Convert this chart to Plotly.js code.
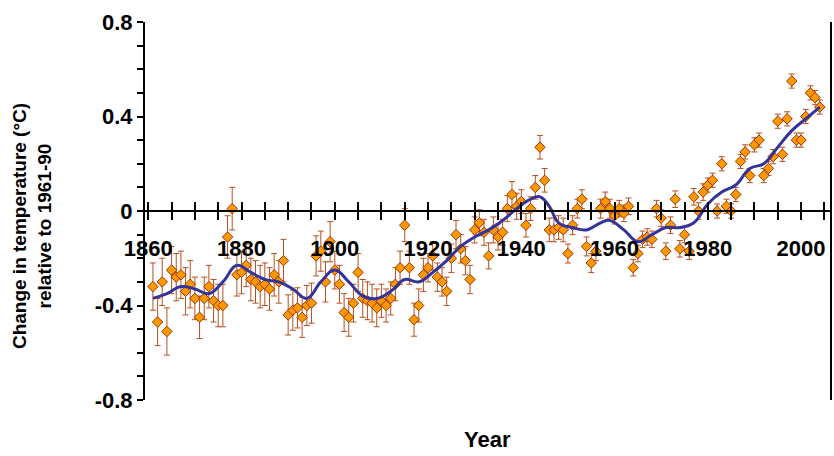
<!DOCTYPE html>
<html>
<head>
<meta charset="utf-8">
<script src="https://cdn.plot.ly/plotly-3.0.1.min.js"></script>
<style>body{margin:0}#graph{width:834px;height:456px}</style>
</head>
<body>
<div id="graph"></div>
<script>
// annual anomalies
const years = []
for (let y = 1861; y <= 2004; y++) years.push(y)

const anomaly = [
  -0.32, -0.47, -0.30, -0.51, -0.25, -0.28, -0.27, -0.34, -0.31,
  -0.37, -0.45, -0.37, -0.32, -0.38, -0.40, -0.40, -0.11, 0.01, -0.27,
  -0.26, -0.23, -0.29, -0.30, -0.32, -0.31, -0.33, -0.27, -0.30, -0.21,
  -0.44, -0.42, -0.41, -0.45, -0.40, -0.39, -0.19, -0.17, -0.30, -0.13,
  -0.25, -0.31, -0.43, -0.45, -0.39, -0.26, -0.37, -0.38, -0.39, -0.41,
  -0.38, -0.40, -0.37, -0.31, -0.24, -0.06, -0.24, -0.46, -0.40, -0.27,
  -0.24, -0.19, -0.28, -0.30, -0.34, -0.20, -0.10, -0.16, -0.21, -0.29,
  -0.08, -0.05, -0.09, -0.19, -0.08, -0.11, -0.09, 0.01, 0.07, 0.02,
  0.04, -0.06, 0.01, 0.10, 0.27, 0.13, -0.08, -0.08, -0.07, -0.08,
  -0.18, -0.06, 0.01, 0.05, -0.15, -0.22, -0.17, 0.01, 0.04, 0.01,
  -0.02, 0.01, -0.01, 0.02, -0.24, -0.18, -0.12, -0.11, -0.12, 0.01,
  -0.03, -0.17, -0.06, 0.05, -0.16, -0.10, -0.17, 0.06, 0.00, 0.08,
  0.11, 0.13, 0.00, 0.20, 0.02, 0.00, 0.07, 0.21, 0.25, 0.15,
  0.28, 0.30, 0.15, 0.18, 0.23, 0.38, 0.24, 0.39, 0.55, 0.30,
  0.30, 0.40, 0.50, 0.48, 0.44
]

// error bar half-widths per decade (1860s .. 2000s)
const decadeError = [0.10, 0.09, 0.09, 0.085, 0.08, 0.07, 0.06, 0.055, 0.05, 0.04, 0.035, 0.035, 0.03, 0.03, 0.03, 0.03]
const errors = years.map(y => decadeError[Math.floor((y - 1860) / 10)])

// smoothed curve
const smoothYears = [1861, 1864, 1867, 1870, 1873, 1876, 1879, 1882, 1885, 1888, 1891, 1894, 1897, 1900,
  1903, 1906, 1909, 1912, 1915, 1918, 1921, 1924, 1927, 1930, 1933, 1936, 1939, 1942, 1944, 1946,
  1948, 1951, 1954, 1957, 1959, 1962, 1965, 1968, 1971, 1974, 1977, 1980, 1983, 1986, 1989, 1992,
  1995, 1998, 2001, 2004]
const smoothValues = [-0.37, -0.35, -0.32, -0.33, -0.35, -0.30, -0.23, -0.26, -0.29, -0.30, -0.33, -0.37, -0.30, -0.25,
  -0.30, -0.36, -0.37, -0.34, -0.29, -0.30, -0.26, -0.21, -0.15, -0.11, -0.08, -0.04, 0.01, 0.05, 0.06, 0.02,
  -0.05, -0.07, -0.08, -0.05, -0.04, -0.08, -0.13, -0.10, -0.07, -0.07, -0.05, 0.03, 0.08, 0.11, 0.18, 0.20,
  0.27, 0.34, 0.39, 0.44]

const tickFont = {family: 'Arial, Liberation Sans', size: 22, color: '#000', weight: 'bold'}

const data = [
  {
    x: years, y: anomaly, type: 'scatter', mode: 'markers',
    marker: {symbol: 'diamond', size: 8, color: '#ff9900', line: {color: '#a03000', width: 1}},
    error_y: {type: 'data', array: errors, color: '#b8501e', thickness: 1, width: 3},
    hoverinfo: 'x+y'
  },
  {
    x: smoothYears, y: smoothValues, type: 'scatter', mode: 'lines',
    line: {color: '#333399', width: 3, shape: 'spline', smoothing: 1.2}
  },
  {x: [1860], y: [0], xaxis: 'x2', type: 'scatter', mode: 'markers', marker: {opacity: 0}, hoverinfo: 'skip'}
]

const xCommon = {
  range: [1859.3, 2006.2], tick0: 1860, dtick: 20, zeroline: false, showgrid: false,
  showline: true, linecolor: '#000', linewidth: 2, tickwidth: 2, tickcolor: '#000', ticklen: 8,
  anchor: 'free', position: 0.5
}

const layout = {
  width: 834, height: 456,
  margin: {l: 145, r: 4, t: 22, b: 56},
  showlegend: false,
  paper_bgcolor: '#fff', plot_bgcolor: '#fff',
  xaxis: Object.assign({}, xCommon, {
    ticks: 'outside', tickfont: tickFont, ticklabelstandoff: 10,
    minor: {dtick: 5, ticks: 'outside', ticklen: 8, tickwidth: 2, tickcolor: '#000'}
  }),
  xaxis2: Object.assign({}, xCommon, {
    overlaying: 'x', ticks: 'inside', showticklabels: false,
    minor: {dtick: 5, ticks: 'inside', ticklen: 8, tickwidth: 2, tickcolor: '#000'}
  }),
  yaxis: {
    range: [-0.8, 0.8], tickvals: [-0.8, -0.4, 0, 0.4, 0.8],
    ticktext: ['-0.8', '-0.4', '0', '0.4', '0.8'],
    showgrid: false, zeroline: false, showline: true, mirror: true,
    linecolor: '#000', linewidth: 2, ticks: 'outside', ticklen: 6, tickwidth: 2, tickcolor: '#000',
    minor: {dtick: 0.1, ticks: 'outside', ticklen: 6, tickwidth: 2, tickcolor: '#000'},
    tickfont: tickFont
  },
  annotations: [
    {
      text: '<b>Year</b>', xref: 'paper', yref: 'paper', x: 0.5, y: -0.105, yanchor: 'middle', showarrow: false,
      font: {family: 'Arial, Liberation Sans', size: 22, color: '#000'}
    },
    {
      text: '<b>Change in temperature (°C)<br>relative to 1961-90</b>', xref: 'paper', yref: 'paper',
      x: -0.165, xanchor: 'center', y: 0.46, textangle: -90, showarrow: false,
      font: {family: 'Arial, Liberation Sans', size: 19, color: '#000'}
    }
  ]
}

Plotly.newPlot('graph', data, layout, {displayModeBar: false, staticPlot: true})
</script>
</body>
</html>
